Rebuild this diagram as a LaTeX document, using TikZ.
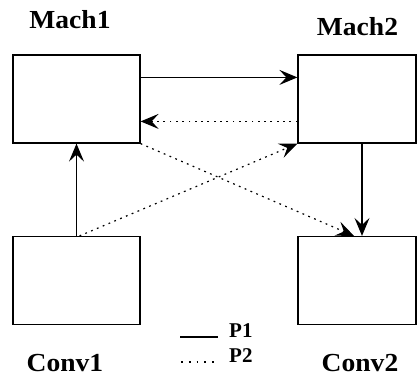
\documentclass[tikz,border=0pt]{standalone}
\usepackage{fontspec}
\setmainfont{Liberation Serif}
\usetikzlibrary{arrows.meta}
\begin{document}
\begin{tikzpicture}[x=1pt,y=-1pt,
  box/.style={draw,line width=1.2pt,minimum width=127pt,minimum height=88pt,inner sep=0pt},
  boxr/.style={box,minimum width=118pt},
  lbl/.style={font=\bfseries\fontsize{26}{30}\selectfont,inner sep=0pt,xscale=1.06,anchor=base},
  leg/.style={font=\bfseries\fontsize{21}{24}\selectfont,inner sep=0pt,anchor=base west},
  flow/.style={line width=1.2pt,-{Stealth[length=18pt,width=15pt,inset=7pt]}},
  pflow/.style={flow,dash pattern=on 1.8pt off 4.5pt}]
\useasboundingbox (0,0) rectangle (417,376);
\fill[white] (0,0) rectangle (417,376);
% machines and conveyors
\node[box]  (m1) at (76.5,99) {};
\node[boxr] (m2) at (357,99) {};
\node[box]  (c1) at (76.5,280.5) {};
\node[boxr] (c2) at (357,280.5) {};
% titles
\node[lbl] (t1) at (70,28) {Mach1};
\node[lbl] (t2) at (357.5,35) {Mach2};
\node[lbl] (t3) at (65,371) {Conv1};
\node[lbl] (t4) at (360,371) {Conv2};
% P1 routes (solid)
\draw[flow] ([yshift=-23pt]m1.north east) -- ([yshift=-23pt]m2.north west);
\draw[flow] (c1.north) -- (m1.south);
\draw[flow] ([xshift=5pt]m2.south) -- ([xshift=5pt]c2.north);
% P2 routes (dotted)
\draw[pflow] ([yshift=-67pt]m2.north west) -- ([yshift=-67pt]m1.north east);
\draw[pflow] (m1.south east) -- ([xshift=-3pt]c2.north);
\draw[pflow] ([xshift=3pt]c1.north) -- (m2.south west);
% legend
\coordinate (l1a) at (180,337);
\coordinate (l1b) at (218,337);
\coordinate (l2a) at (181,362);
\coordinate (l2b) at (218,362);
\draw[line width=1.2pt] (l1a) -- (l1b);
\draw[line width=1.2pt,dash pattern=on 1.8pt off 6pt] (l2a) -- (l2b);
\node[leg] (p1) at (229,337) {P1};
\node[leg] (p2) at (229,362) {P2};
\end{tikzpicture}
\end{document}
